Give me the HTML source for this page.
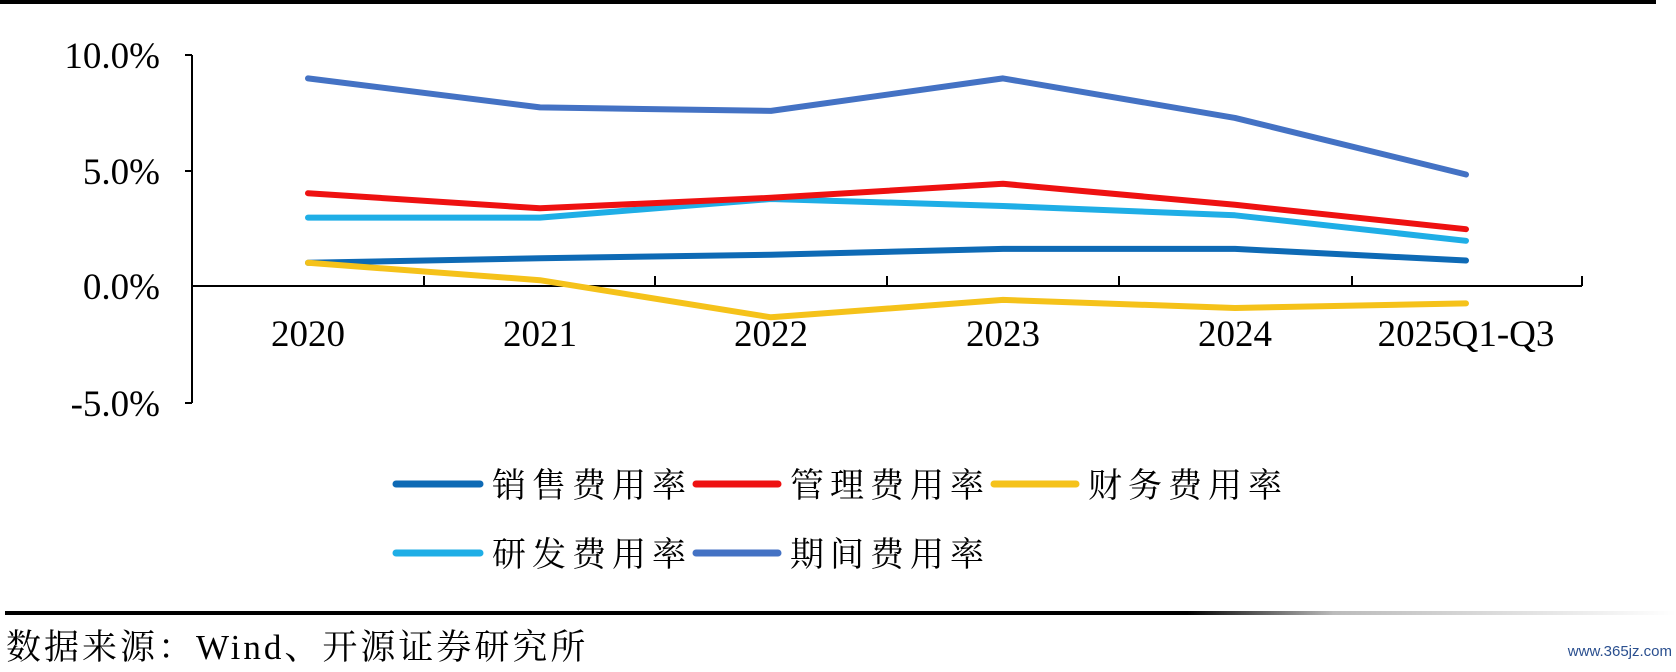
<!DOCTYPE html>
<html><head><meta charset="utf-8"><style>
body{margin:0;background:#fff;width:1676px;height:672px;overflow:hidden;position:relative}
svg{position:absolute;left:0;top:0}
</style></head><body>
<svg width="1676" height="672" viewBox="0 0 1676 672" xmlns="http://www.w3.org/2000/svg">
<defs><linearGradient id="g" x1="0" x2="1"><stop offset="0" stop-color="#000"/><stop offset="0.3" stop-color="#bbb"/><stop offset="1" stop-color="#fff"/></linearGradient></defs>
<rect x="0" y="0" width="1656" height="4" fill="#000"/>
<g stroke="#000" stroke-width="2" fill="none">
<line x1="192" y1="55" x2="192" y2="403"/>
<line x1="192" y1="286" x2="1582" y2="286"/>
<line x1="185" y1="55" x2="192" y2="55"/><line x1="185" y1="171" x2="192" y2="171"/><line x1="185" y1="403" x2="192" y2="403"/>
<line x1="424" y1="286" x2="424" y2="276"/><line x1="655" y1="286" x2="655" y2="276"/><line x1="887" y1="286" x2="887" y2="276"/><line x1="1119" y1="286" x2="1119" y2="276"/><line x1="1352" y1="286" x2="1352" y2="276"/><line x1="1582" y1="286" x2="1582" y2="276"/>
</g>
<g font-family="Liberation Serif, serif" font-size="37" fill="#000" text-anchor="end">
<text x="160" y="68">10.0%</text><text x="160" y="184">5.0%</text><text x="160" y="299">0.0%</text><text x="160" y="416">-5.0%</text>
</g>
<g font-family="Liberation Serif, serif" font-size="37" fill="#000" text-anchor="middle">
<text x="308" y="346">2020</text><text x="540" y="346">2021</text><text x="771" y="346">2022</text><text x="1003" y="346">2023</text><text x="1235" y="346">2024</text><text x="1466" y="346">2025Q1-Q3</text>
</g>
<g fill="none" stroke-width="6" stroke-linejoin="round" stroke-linecap="round">
<polyline stroke="#4472C4" points="308,78.4 540,107.4 771,110.9 1003,78.4 1235,117.9 1466,174.5"/>
<polyline stroke="#1FAEE6" points="308,217.6 540,217.6 771,199 1003,206 1235,215.3 1466,240.8"/>
<polyline stroke="#EE1111" points="308,193.2 540,208.3 771,197.8 1003,183.8 1235,204.8 1466,229.2"/>
<polyline stroke="#0E6AB5" points="308,262.8 540,258.2 771,254.7 1003,248.9 1235,248.9 1466,260.5"/>
<polyline stroke="#F5C21A" points="308,262.8 540,280.2 771,317.3 1003,299.9 1235,308 1466,303.4"/>
</g>
<g stroke-width="7" stroke-linecap="round">
<line x1="396" y1="484" x2="480" y2="484" stroke="#0E6AB5"/>
<line x1="696" y1="484" x2="778" y2="484" stroke="#EE1111"/>
<line x1="994" y1="484" x2="1076" y2="484" stroke="#F5C21A"/>
<line x1="396" y1="553" x2="480" y2="553" stroke="#1FAEE6"/>
<line x1="696" y1="553" x2="778" y2="553" stroke="#4472C4"/>
</g>
<g font-family="Liberation Serif, 'Noto Serif CJK SC', serif" font-size="34" fill="#000" letter-spacing="6">
<text x="492" y="497">销售费用率</text><text x="790" y="497">管理费用率</text><text x="1088" y="497">财务费用率</text>
<text x="492" y="566">研发费用率</text><text x="790" y="566">期间费用率</text>
</g>
<rect x="5" y="611" width="1187" height="4" fill="#000"/>
<rect x="1187" y="611" width="489" height="4" fill="url(#g)"/>
<text x="6" y="659" font-family="Liberation Serif, 'Noto Serif CJK SC', serif" font-size="35" letter-spacing="3" fill="#000">数据来源：Wind、开源证券研究所</text>
<text x="1672" y="656" text-anchor="end" font-family="Liberation Sans, sans-serif" font-size="15" fill="#2a4f8f">www.365jz.com</text>
</svg>
</body></html>
